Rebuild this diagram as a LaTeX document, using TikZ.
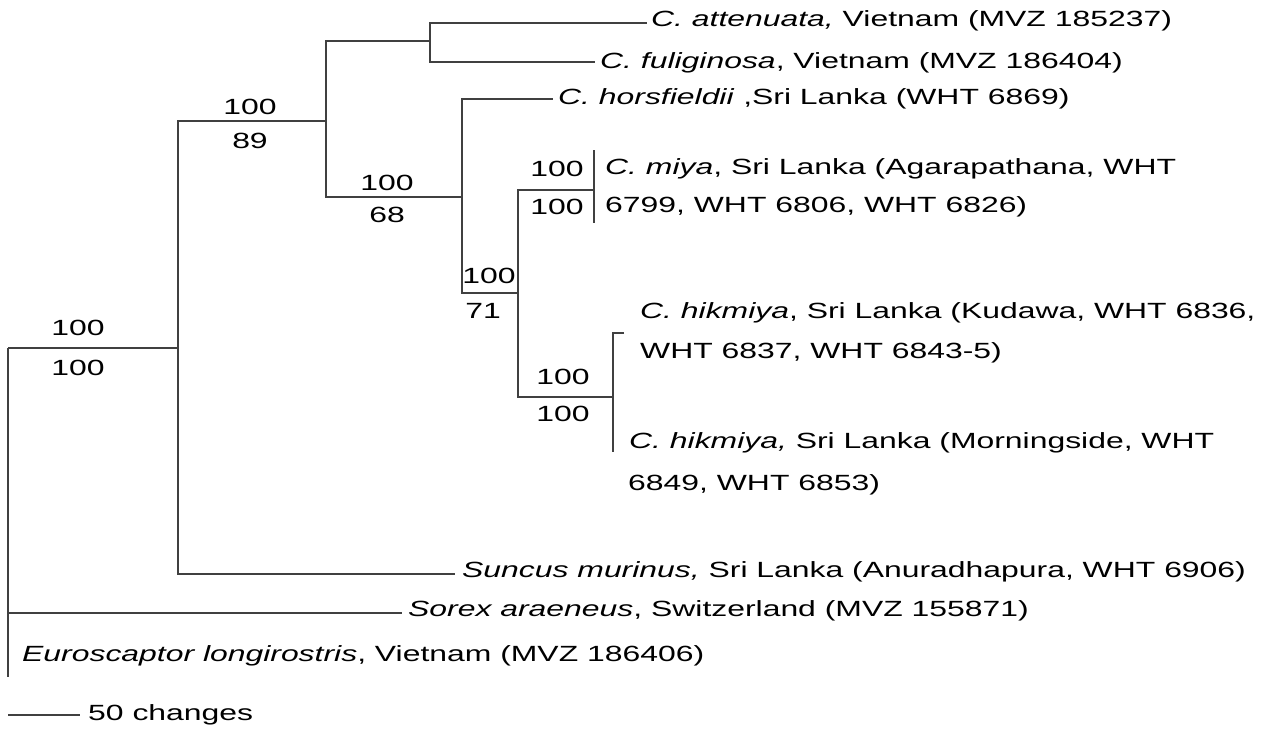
\documentclass[tikz,border=0pt]{standalone}
\usepackage{graphicx}
\usepackage{fontspec}
\setmainfont{Liberation Sans}
\newcommand\wide[1]{\scalebox{1.45}[1]{#1}}
\tikzset{
  branch/.style={draw=black!75, line width=1.3pt},
  taxon/.style={anchor=west, inner sep=0pt, font=\fontsize{22}{26}\selectfont},
  boot/.style={inner sep=0pt, font=\fontsize{22}{26}\selectfont},
}
\begin{document}
\begin{tikzpicture}[x=1pt,y=-1pt]
\useasboundingbox (0,0) rectangle (1268,731);
% internal nodes and tips
\coordinate (R) at (8,348);
\coordinate (A) at (178,348);
\coordinate (B) at (326,121);
\coordinate (C) at (430,41);
\coordinate (D) at (462,197);
\coordinate (E) at (518,293);
\coordinate (F) at (613,397);
\coordinate (att) at (647,23);
\coordinate (ful) at (595,62);
\coordinate (hor) at (553,99);
\coordinate (miy) at (594,190);
\coordinate (miyT) at (594,150);
\coordinate (miyB) at (594,223);
\coordinate (hikT) at (613,333);
\coordinate (hikTk) at (624,333);
\coordinate (hikB) at (613,452);
\coordinate (sun) at (455,574);
\coordinate (sor) at (402,613);
\coordinate (eur) at (8,677);
\coordinate (sc1) at (8,715);
\coordinate (sc2) at (80,715);
% branches
\draw[branch] (R) -- (A);
\draw[branch] (R) |- (sor);
\draw[branch] (R) -- (eur);
\draw[branch] (A) |- (B);
\draw[branch] (A) |- (sun);
\draw[branch] (B) |- (C);
\draw[branch] (B) |- (D);
\draw[branch] (C) |- (att);
\draw[branch] (C) |- (ful);
\draw[branch] (D) |- (hor);
\draw[branch] (D) |- (E);
\draw[branch] (E) |- (miy);
\draw[branch] (E) |- (F);
\draw[branch] (miyT) -- (miyB);
\draw[branch] (hikTk) -- (hikT) -- (hikB);
\draw[branch] (sc1) -- (sc2);
% support values
\node[boot] (b1) at (78,328) {\wide{100}};
\node[boot] (b2) at (78,368) {\wide{100}};
\node[boot] (b3) at (250,107) {\wide{100}};
\node[boot] (b4) at (250,141) {\wide{89}};
\node[boot] (b5) at (387,183) {\wide{100}};
\node[boot] (b6) at (387,215) {\wide{68}};
\node[boot] (b7) at (489,276) {\wide{100}};
\node[boot] (b8) at (483,311) {\wide{71}};
\node[boot] (b9) at (557,169) {\wide{100}};
\node[boot] (b10) at (557,207) {\wide{100}};
\node[boot] (b11) at (563,377) {\wide{100}};
\node[boot] (b12) at (563,414) {\wide{100}};
% taxa
\node[taxon] (t1) at (651,21) {\wide{\textit{C. attenuata,} Vietnam (MVZ 185237)}};
\node[taxon] (t2) at (600,63) {\wide{\textit{C. fuliginosa}, Vietnam (MVZ 186404)}};
\node[taxon] (t3) at (558,99) {\wide{\textit{C. horsfieldii} ,Sri Lanka (WHT 6869)}};
\node[taxon] (t4) at (605,169) {\wide{\textit{C. miya}, Sri Lanka (Agarapathana, WHT}};
\node[taxon] (t5) at (605,207) {\wide{6799, WHT 6806, WHT 6826)}};
\node[taxon] (t6) at (640,313) {\wide{\textit{C. hikmiya}, Sri Lanka (Kudawa, WHT 6836,}};
\node[taxon] (t7) at (640,353) {\wide{WHT 6837, WHT 6843-5)}};
\node[taxon] (t8) at (629,443) {\wide{\textit{C. hikmiya,} Sri Lanka (Morningside, WHT}};
\node[taxon] (t9) at (628,485) {\wide{6849, WHT 6853)}};
\node[taxon] (t10) at (462,572) {\wide{\textit{Suncus murinus,} Sri Lanka (Anuradhapura, WHT 6906)}};
\node[taxon] (t11) at (408,611) {\wide{\textit{Sorex araeneus}, Switzerland (MVZ 155871)}};
\node[taxon] (t12) at (22,656) {\wide{\textit{Euroscaptor longirostris}, Vietnam (MVZ 186406)}};
\node[taxon] (t13) at (88,715) {\wide{50 changes}};
\end{tikzpicture}
\end{document}
